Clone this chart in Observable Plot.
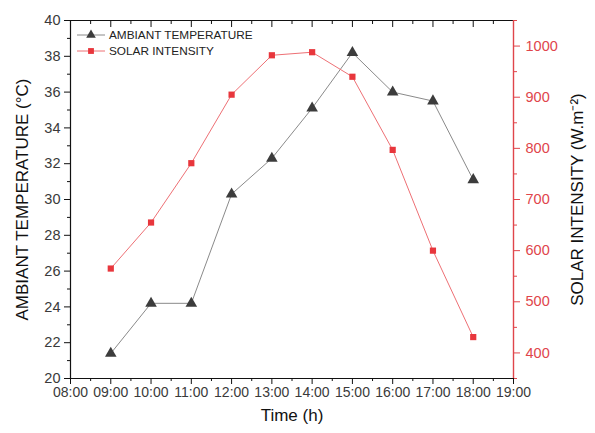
<!DOCTYPE html>
<html>
<head>
<meta charset="utf-8">
<script src="https://cdn.jsdelivr.net/npm/d3@7"></script>
<script src="https://cdn.jsdelivr.net/npm/@observablehq/plot@0.6"></script>
<style>
  html, body { margin: 0; padding: 0; background: #fff; }
</style>
</head>
<body>
<div id="chart"></div>
<script>
// ---- data ----
const times = ["09:00","10:00","11:00","12:00","13:00","14:00","15:00","16:00","17:00","18:00"];
const ambientTemperature = [21.4, 24.2, 24.2, 30.3, 32.3, 35.1, 38.2, 36.0, 35.5, 31.1];
const solarIntensity = [565, 655, 771, 905, 982, 988, 940, 797, 600, 431];
const timeTicks = ["08:00","09:00","10:00","11:00","12:00","13:00","14:00","15:00","16:00","17:00","18:00","19:00"];
const tempTicks = [20, 22, 24, 26, 28, 30, 32, 34, 36, 38, 40];
const solarTicks = [400, 500, 600, 700, 800, 900, 1000];
const legendLabels = ["AMBIANT TEMPERATURE", "SOLAR INTENSITY"];

// ---- helpers ----
const toHour = s => +s.split(":")[0] + (+s.split(":")[1]) / 60;
const fmtHour = h => String(Math.floor(h)).padStart(2, "0") + ":00";
const tempDomain = [20, 40];
const solarDomain = [350, 1050];
const toT = s => tempDomain[0] + (s - solarDomain[0]) * (tempDomain[1] - tempDomain[0]) / (solarDomain[1] - solarDomain[0]);
const fromT = t => String(Math.round(solarDomain[0] + (t - tempDomain[0]) * (solarDomain[1] - solarDomain[0]) / (tempDomain[1] - tempDomain[0])));

const tempData = times.map((t, i) => ({x: toHour(t), y: ambientTemperature[i]}));
const solarData = times.map((t, i) => ({x: toHour(t), y: toT(solarIntensity[i])}));

const xMajor = timeTicks.map(toHour);
const xMinor = xMajor.slice(0, -1).map(h => h + 0.5);
const yMinor = tempTicks.slice(0, -1).map(v => v + 1);
const rMajor = solarTicks.map(toT);
const rMinor = [solarDomain[0]].concat(solarTicks.map(s => s + 50)).map(toT);

const RED = "#e8363c";
const REDTXT = "#e0454b";
const REDLINE = "#ee7075";
const GREYLINE = "#8a8a8a";
const DARK = "#3c3c3c";

const W = 595, H = 433;
const M = {left: 70, right: 82, top: 20, bottom: 55};

function legendMark(index, scales, values, dims) {
  const g = d3.create("svg:g");
  const x0 = dims.marginLeft + 7, x1 = dims.marginLeft + 35, xm = (x0 + x1) / 2;
  const ys = [dims.marginTop + 15, dims.marginTop + 31];
  const sym = [d3.symbolTriangle, d3.symbolSquare];
  const lineC = [GREYLINE, REDLINE], fillC = [DARK, RED], sz = [40, 34];
  legendLabels.forEach((lab, i) => {
    g.append("line").attr("x1", x0).attr("x2", x1).attr("y1", ys[i]).attr("y2", ys[i])
      .attr("stroke", lineC[i]).attr("stroke-width", 1);
    g.append("path").attr("d", d3.symbol(sym[i], sz[i])()).attr("transform", `translate(${xm},${ys[i]})`)
      .attr("fill", fillC[i]);
    g.append("text").attr("x", x1 + 4).attr("y", ys[i]).attr("dy", "0.35em")
      .attr("text-anchor", "start")
      .attr("font-size", 11.8).attr("fill", "#222").text(lab);
  });
  return g.node();
}

const chart = Plot.plot({
  width: W, height: H,
  marginLeft: M.left, marginRight: M.right, marginTop: M.top, marginBottom: M.bottom,
  style: {fontFamily: "'Liberation Sans', Arial, Helvetica, sans-serif", fontSize: "13px", color: "#333", background: "#fff"},
  x: {domain: [8, 19]},
  y: {domain: tempDomain},
  marks: [
    // bottom axis
    Plot.axisX({ticks: xMajor, tickFormat: fmtHour, tickSize: 6, tickPadding: 3, label: null, fontSize: 14, stroke: "#111", fill: "#3a3a3a"}),
    Plot.axisX({ticks: xMinor, tickFormat: () => "", tickSize: 3, label: null, stroke: "#111"}),
    // top axis (inward ticks)
    Plot.axisX({anchor: "top", ticks: xMajor, tickFormat: () => "", tickSize: -6, label: null, stroke: "#111"}),
    Plot.axisX({anchor: "top", ticks: xMinor, tickFormat: () => "", tickSize: -3, label: null, stroke: "#111"}),
    // left axis
    Plot.axisY({ticks: tempTicks, tickSize: 6, tickPadding: 4, label: null, fontSize: 14.5, stroke: "#111", fill: "#3a3a3a"}),
    Plot.axisY({ticks: yMinor, tickFormat: () => "", tickSize: 3, label: null, stroke: "#111"}),
    // right axis (solar intensity)
    Plot.axisY({anchor: "right", ticks: rMajor, tickFormat: fromT, tickSize: 6, tickPadding: 6, label: null, fontSize: 14.5, stroke: REDTXT, fill: REDTXT}),
    Plot.axisY({anchor: "right", ticks: rMinor, tickFormat: () => "", tickSize: 3, label: null, stroke: REDTXT}),
    // frame lines
    Plot.ruleY([tempDomain[0]], {stroke: "#111", strokeWidth: 1.2}),
    Plot.ruleY([tempDomain[1]], {stroke: "#111", strokeWidth: 1.2}),
    Plot.ruleX([8], {stroke: "#111", strokeWidth: 1.2}),
    Plot.ruleX([19], {stroke: REDTXT, strokeWidth: 1.4}),
    // series
    Plot.line(tempData, {x: "x", y: "y", stroke: GREYLINE, strokeWidth: 1}),
    Plot.line(solarData, {x: "x", y: "y", stroke: REDLINE, strokeWidth: 1}),
    Plot.dot(tempData, {x: "x", y: "y", symbol: "triangle", fill: DARK, r: 4.3}),
    Plot.dot(solarData, {x: "x", y: "y", symbol: "square", fill: RED, r: 3.5}),
    // titles
    Plot.text(["AMBIANT TEMPERATURE (°C)"], {frameAnchor: "left", textAnchor: "middle", rotate: -90, dx: -48, fontSize: 17, fill: "#111"}),
    Plot.text(["SOLAR INTENSITY (W.m\u207B\u00B2)"], {frameAnchor: "right", textAnchor: "middle", rotate: -90, dx: 64, fontSize: 17, fill: "#111"}),
    Plot.text(["Time (h)"], {frameAnchor: "bottom", dy: 42, fontSize: 17, fill: "#111"}),
    legendMark
  ]
});
document.getElementById("chart").appendChild(chart);
</script>
</body>
</html>
